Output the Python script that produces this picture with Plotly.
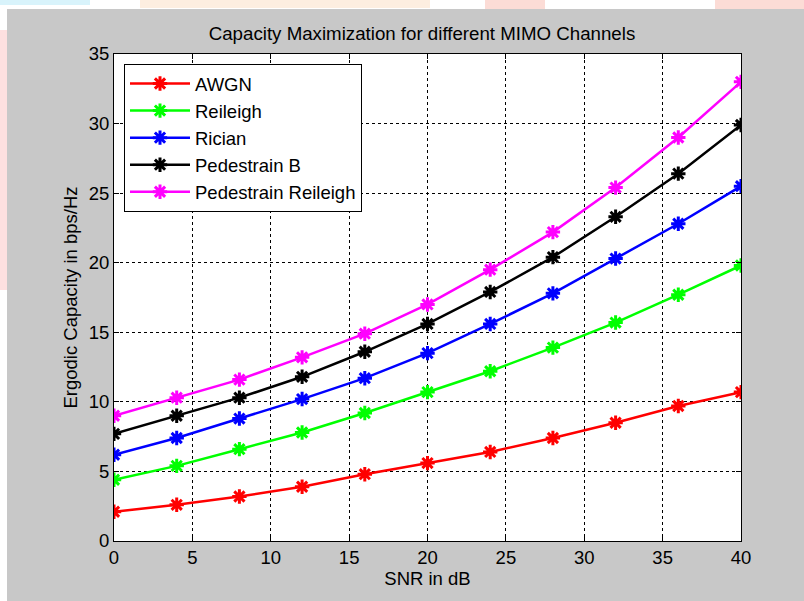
import plotly.graph_objects as go

snr = [0, 4, 8, 12, 16, 20, 24, 28, 32, 36, 40]
awgn = [2.1, 2.6, 3.2, 3.9, 4.8, 5.6, 6.4, 7.4, 8.5, 9.7, 10.7]
reileigh = [4.4, 5.4, 6.6, 7.8, 9.2, 10.7, 12.2, 13.9, 15.7, 17.7, 19.8]
rician = [6.2, 7.4, 8.8, 10.2, 11.7, 13.5, 15.6, 17.8, 20.3, 22.8, 25.5]
ped_b = [7.7, 9.0, 10.3, 11.8, 13.6, 15.6, 17.9, 20.4, 23.3, 26.4, 29.9]
ped_rei = [9.0, 10.3, 11.6, 13.2, 14.9, 17.0, 19.5, 22.2, 25.4, 29.0, 33.0]

names = ["AWGN", "Reileigh", "Rician", "Pedestrain B", "Pedestrain Reileigh"]
colors = ["#ff0000", "#00ff00", "#0000ff", "#000000", "#ff00ff"]
series = [awgn, reileigh, rician, ped_b, ped_rei]

fig = go.Figure()
for n, c, s in zip(names, colors, series):
    fig.add_trace(go.Scatter(
        x=snr, y=s, name=n, mode="lines+markers",
        line=dict(color=c, width=2.5),
        marker=dict(symbol="asterisk-open", size=12, color=c,
                    line=dict(color=c, width=3)),
    ))

FAM = "Liberation Sans, Arial, sans-serif"
font = dict(family=FAM, size=18.5, color="#000000")

axis_common = dict(
    showgrid=True, gridcolor="#000000", gridwidth=1, griddash="3px,3px",
    showline=True, linecolor="#000000", linewidth=1, mirror="ticks",
    ticks="inside", ticklen=5, tickcolor="#000000", zeroline=False,
    tickfont=font,
)

fig.update_layout(
    width=804, height=601,
    margin=dict(l=114, r=63, t=54, b=60),
    paper_bgcolor="#c8c8c8", plot_bgcolor="#ffffff",
    font=font,
    showlegend=True,
    title=dict(text="Capacity Maximization for different MIMO Channels",
               x=422 / 804, xanchor="center", y=1 - 33 / 601, yanchor="middle",
               font=dict(family=FAM, size=18.7, color="#000000")),
    xaxis=dict(range=[0, 40], tickvals=[0, 5, 10, 15, 20, 25, 30, 35, 40],
               title=dict(text="SNR in dB", font=font, standoff=4), **axis_common),
    yaxis=dict(range=[0, 35], tickvals=[0, 5, 10, 15, 20, 25, 30, 35],
               title=dict(text="Ergodic Capacity in bps/Hz", font=font, standoff=6), **axis_common),
    legend=dict(x=(124 - 114) / 627, y=(541 - 64) / 487, xanchor="left", yanchor="top",
                bgcolor="#ffffff", bordercolor="#000000", borderwidth=1,
                font=font, tracegroupgap=0, itemwidth=60),
)

def px_x(p):
    return (p - 114) / 627

def px_y(p):
    return (541 - p) / 487

shapes = [
    dict(type="rect", xref="paper", yref="paper", x0=px_x(0), x1=px_x(804), y0=px_y(9), y1=px_y(0),
         fillcolor="#ffffff", line=dict(width=0), layer="above"),
    dict(type="rect", xref="paper", yref="paper", x0=px_x(0), x1=px_x(7), y0=px_y(601), y1=px_y(0),
         fillcolor="#ffffff", line=dict(width=0), layer="above"),
    dict(type="rect", xref="paper", yref="paper", x0=px_x(0), x1=px_x(90), y0=px_y(5), y1=px_y(0),
         fillcolor="#d8f3fb", line=dict(width=0), layer="above"),
    dict(type="rect", xref="paper", yref="paper", x0=px_x(140), x1=px_x(430), y0=px_y(8), y1=px_y(0),
         fillcolor="#fdeee0", line=dict(width=0), layer="above"),
    dict(type="rect", xref="paper", yref="paper", x0=px_x(485), x1=px_x(545), y0=px_y(9), y1=px_y(0),
         fillcolor="#fcdcd6", line=dict(width=0), layer="above"),
    dict(type="rect", xref="paper", yref="paper", x0=px_x(715), x1=px_x(804), y0=px_y(9), y1=px_y(0),
         fillcolor="#fcdcd6", line=dict(width=0), layer="above"),
    dict(type="rect", xref="paper", yref="paper", x0=px_x(0), x1=px_x(7), y0=px_y(290), y1=px_y(30),
         fillcolor="#fde0e0", line=dict(width=0), layer="above"),
]
fig.update_layout(shapes=shapes)

fig.write_html("out.html", config={"displayModeBar": False},
               post_script="document.body.style.margin='0px';document.body.style.overflow='hidden';")
